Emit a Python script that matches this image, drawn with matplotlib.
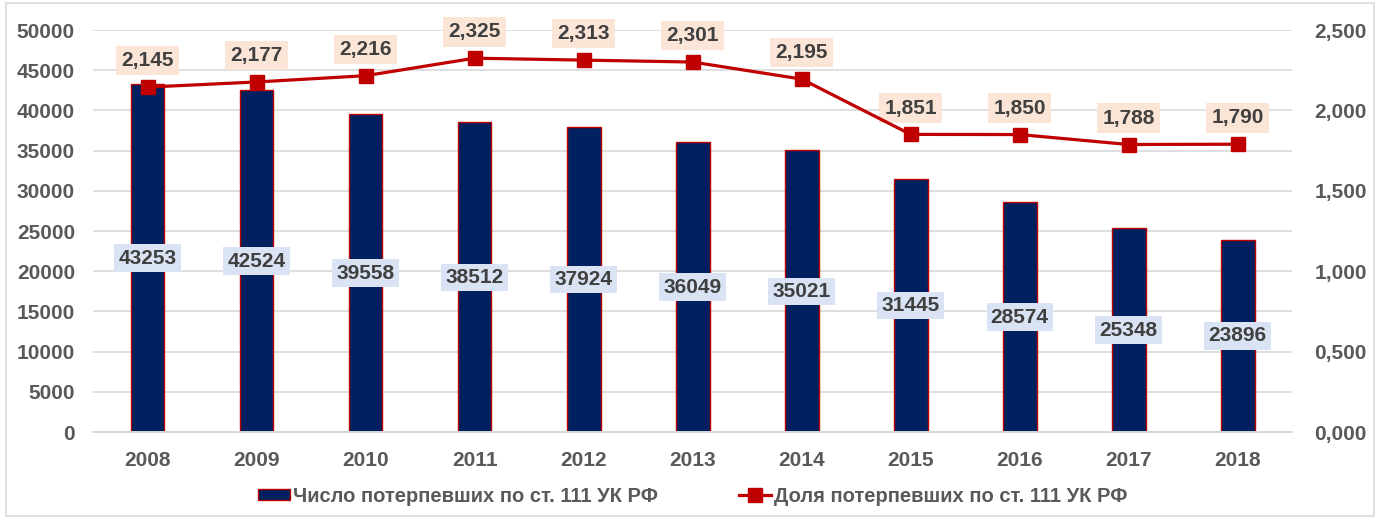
import matplotlib
matplotlib.use("Agg")
import matplotlib.pyplot as plt
from matplotlib.patches import Rectangle

plt.rcParams['font.family'] = ['Liberation Sans', 'DejaVu Sans']

years = ['2008', '2009', '2010', '2011', '2012', '2013', '2014', '2015', '2016', '2017', '2018']
victims = [43253, 42524, 39558, 38512, 37924, 36049, 35021, 31445, 28574, 25348, 23896]
share = [2.145, 2.177, 2.216, 2.325, 2.313, 2.301, 2.195, 1.851, 1.850, 1.788, 1.790]
left_ticks = [0, 5000, 10000, 15000, 20000, 25000, 30000, 35000, 40000, 45000, 50000]
right_ticks = [0, 0.5, 1.0, 1.5, 2.0, 2.5]

navy = '#002060'
red = '#C00000'
txt = '#404040'
tick_col = '#595959'

fig = plt.figure(figsize=(13.8, 5.18), dpi=100)
ax = fig.add_axes([0.0674, 0.166, 0.869, 0.776])
ax2 = ax.twinx()

x = list(range(len(years)))
ax.bar(x, victims, width=0.31, color=navy, edgecolor=red, linewidth=1.0, zorder=2,
       label='Число потерпевших по ст. 111 УК РФ')
for xi, v in zip(x, victims):
    ax.text(xi, v / 2, str(v), ha='center', va='center', fontsize=15, fontweight='bold',
            color=txt, zorder=5,
            bbox=dict(boxstyle='square,pad=0.2', fc='#DAE3F3', ec='none'))

ax.set_ylim(0, 50000)
ax.set_xlim(-0.5, len(years) - 0.5)
ax.set_yticks(left_ticks)
ax.set_yticklabels([str(t) for t in left_ticks])
ax.set_xticks(x)
ax.set_xticklabels(years)
ax.grid(axis='y', color='#D9D9D9', linewidth=1.2, zorder=0)
ax.set_axisbelow(True)

ax2.plot(x, share, color=red, linewidth=2.3, marker='s', markersize=10,
         markerfacecolor=red, markeredgecolor=red, zorder=4,
         label='Доля потерпевших по ст. 111 УК РФ')
for xi, s in zip(x, share):
    ax2.annotate(f'{s:.3f}'.replace('.', ','), (xi, s), xytext=(0, 19), textcoords='offset points',
                 ha='center', va='center', fontsize=15, fontweight='bold', color=txt,
                 bbox=dict(boxstyle='square,pad=0.25', fc='#FBE5D6', ec='none'))
ax2.set_ylim(0, 2.5)
ax2.set_yticks(right_ticks)
ax2.set_yticklabels([f'{t:.3f}'.replace('.', ',') for t in right_ticks])

for a in (ax, ax2):
    for side in ('top', 'left', 'right'):
        a.spines[side].set_visible(False)
    a.spines['bottom'].set_color('#D9D9D9')
    a.spines['bottom'].set_linewidth(1.2)
    a.tick_params(length=0, labelsize=15, labelcolor=tick_col)
    for lab in a.get_yticklabels() + a.get_xticklabels():
        lab.set_fontweight('bold')
ax.tick_params(axis='y', pad=13)
ax.tick_params(axis='x', pad=14)
ax2.tick_params(axis='y', pad=16)

h1, l1 = ax.get_legend_handles_labels()
h2, l2 = ax2.get_legend_handles_labels()
fig.legend(h1 + h2, l1 + l2, loc='center', bbox_to_anchor=(0.502, 0.042), ncol=2, frameon=False,
           prop={'size': 14.5, 'weight': 'bold'},
           labelcolor=tick_col, handlelength=1.6, handleheight=0.5, handletextpad=0.15,
           columnspacing=4)

fig.patches.append(Rectangle((0.004, 0.004), 0.992, 0.99, transform=fig.transFigure,
                             fill=False, ec='#D9D9D9', lw=1.2))

fig.savefig('out.png', dpi=100)
